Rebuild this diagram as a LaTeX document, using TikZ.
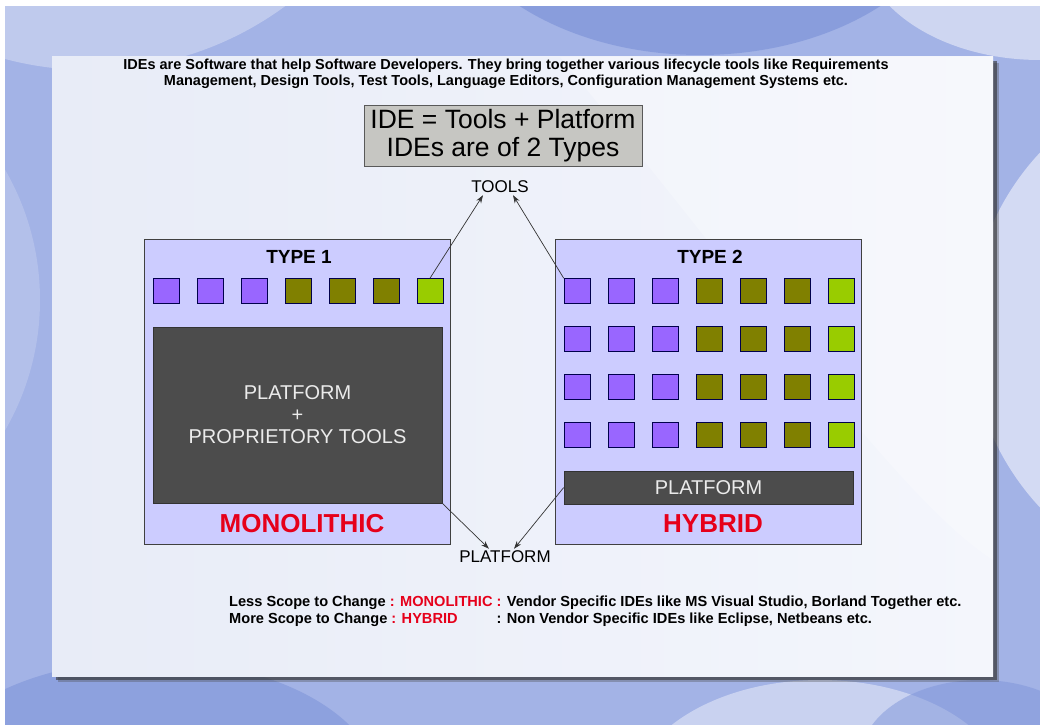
\documentclass[tikz,border=0pt]{standalone}
\usepackage{fontspec}
\setmainfont{Liberation Sans}
\usetikzlibrary{arrows.meta}
\definecolor{bgblue}{HTML}{A3B3E6}
\definecolor{bgdark}{HTML}{7F95D9}
\definecolor{bglight}{HTML}{D3DAF3}
\definecolor{panelA}{HTML}{E8ECF7}
\definecolor{panelB}{HTML}{F4F6FC}
\definecolor{lav}{HTML}{CCCCFF}
\definecolor{sqpurple}{HTML}{9966FF}
\definecolor{sqolive}{HTML}{808000}
\definecolor{sqlime}{HTML}{99CC00}
\definecolor{darkbox}{HTML}{4C4C4C}
\definecolor{boxgray}{HTML}{C6C6C2}
\definecolor{ideRed}{HTML}{E6001A}
\begin{document}
\begin{tikzpicture}[x=1pt,y=-1pt,>={Stealth[length=8pt,width=5.5pt]},
  typebox/.style={draw=black!75,fill=lav,line width=0.8pt,minimum width=306pt,minimum height=305pt,inner sep=0pt},
  sq/.style={draw=black!70!blue,line width=0.6pt,minimum width=26pt,minimum height=25pt,inner sep=0pt},
  pur/.style={sq,fill=sqpurple},
  ol/.style={sq,fill=sqolive},
  lim/.style={sq,fill=sqlime},
  dark/.style={draw=black!80,fill=darkbox,line width=0.6pt,inner sep=0pt,text=black!8,align=center,font=\fontsize{20}{22}\selectfont},
  label/.style={inner sep=2pt,font=\fontsize{17}{19}\selectfont},
  kind/.style={text=ideRed,font=\bfseries\fontsize{26}{28}\selectfont}]
\useasboundingbox (0,0) rectangle (1040,725);
\fill[white] (0,0) rectangle (1040,725);
\begin{scope}
\clip (5,7) rectangle (1040,724);
\fill[bgblue] (0,0) rectangle (1040,725);
\fill[bglight,opacity=0.6] (90,-260) circle (330);
\fill[bgdark,opacity=0.7] (700,-120) ellipse (260 and 175);
\fill[bglight,opacity=0.9] (1040,-60) ellipse (180 and 120);
\fill[bglight] (1230,330) circle (260);
\fill[bglight,opacity=0.35] (-220,300) circle (260);
\fill[bgdark,opacity=0.6] (150,790) ellipse (230 and 130);
\fill[bglight,opacity=0.8] (820,800) ellipse (190 and 120);
\fill[bgdark,opacity=0.5] (980,760) ellipse (120 and 80);
\end{scope}
\fill[black!70,opacity=0.35] (58,63) rectangle (999,682);
\fill[black!80,opacity=0.6] (56,61) rectangle (997,680);
\shade[left color=panelA,right color=panelB] (52,57) rectangle (993,676);
\fill[white,opacity=0.25] (560,57) .. controls (760,300) and (900,500) .. (993,560) -- (993,57) -- cycle;

\node[font=\bfseries\fontsize{14.5}{16.5}\selectfont,align=center] (intro) at (506,74) {IDEs are Software that help Software Developers. They bring together various lifecycle tools like Requirements\\Management, Design Tools, Test Tools, Language Editors, Configuration Management Systems etc.};
\node[draw=black!65,fill=boxgray,line width=0.8pt,minimum width=278pt,minimum height=61pt,inner sep=0pt,align=center,font=\fontsize{26.5}{28}\selectfont] (ide) at (503,135.5) {IDE = Tools + Platform\\IDEs are of 2 Types};
\node[label] (tools) at (500,187) {TOOLS};
\node[label] (plat) at (505,557) {PLATFORM};

\node[typebox] (type1) at (297,391.5) {};
\node[typebox] (type2) at (708,391.5) {};
\node[font=\bfseries\fontsize{19}{21}\selectfont] (t1) at (299,257) {TYPE 1};
\node[font=\bfseries\fontsize{19}{21}\selectfont] (t2) at (710,257) {TYPE 2};

\node[pur] (l1) at (166,291) {};
\node[pur] (l2) at (210,291) {};
\node[pur] (l3) at (254,291) {};
\node[ol] (l4) at (298,291) {};
\node[ol] (l5) at (342,291) {};
\node[ol] (l6) at (386,291) {};
\node[lim] (l7) at (430,291) {};

\node[pur] (r11) at (577,291) {};
\node[pur] (r12) at (621,291) {};
\node[pur] (r13) at (665,291) {};
\node[ol] (r14) at (709,291) {};
\node[ol] (r15) at (753,291) {};
\node[ol] (r16) at (797,291) {};
\node[lim] (r17) at (841,291) {};
\node[pur] (r21) at (577,339) {};
\node[pur] (r22) at (621,339) {};
\node[pur] (r23) at (665,339) {};
\node[ol] (r24) at (709,339) {};
\node[ol] (r25) at (753,339) {};
\node[ol] (r26) at (797,339) {};
\node[lim] (r27) at (841,339) {};
\node[pur] (r31) at (577,387) {};
\node[pur] (r32) at (621,387) {};
\node[pur] (r33) at (665,387) {};
\node[ol] (r34) at (709,387) {};
\node[ol] (r35) at (753,387) {};
\node[ol] (r36) at (797,387) {};
\node[lim] (r37) at (841,387) {};
\node[pur] (r41) at (577,435) {};
\node[pur] (r42) at (621,435) {};
\node[pur] (r43) at (665,435) {};
\node[ol] (r44) at (709,435) {};
\node[ol] (r45) at (753,435) {};
\node[ol] (r46) at (797,435) {};
\node[lim] (r47) at (841,435) {};

\node[dark,minimum width=289pt,minimum height=176pt] (mono) at (297.5,415) {PLATFORM\\+\\PROPRIETORY TOOLS};
\node[dark,minimum width=289pt,minimum height=33pt] (platbar) at (708.5,487.5) {PLATFORM};
\node[kind] (monolithic) at (302,524) {MONOLITHIC};
\node[kind] (hybrid) at (713,524) {HYBRID};

\draw[->,black!80,line width=0.7pt] (l7.north) -- ([xshift=-17pt]tools.south);
\draw[->,black!80,line width=0.7pt] (r11.north west) -- ([xshift=13pt]tools.south);
\draw[->,black!80,line width=0.7pt] (mono.south east) -- ([xshift=-16pt]plat.north);
\draw[->,black!80,line width=0.7pt] (platbar.west) -- ([xshift=9pt]plat.north);

\node[anchor=west,inner sep=0pt,font=\bfseries\fontsize{14.6}{17}\selectfont] (note) at (229,611.5) {\begin{tabular}{@{}l@{}l@{}}
Less Scope to Change {\color{ideRed}: MONOLITHIC }&{\color{ideRed}:} Vendor Specific IDEs like MS Visual Studio, Borland Together etc.\\
More Scope to Change {\color{ideRed}: HYBRID}&: Non Vendor Specific IDEs like Eclipse, Netbeans etc.
\end{tabular}};
\end{tikzpicture}
\end{document}
